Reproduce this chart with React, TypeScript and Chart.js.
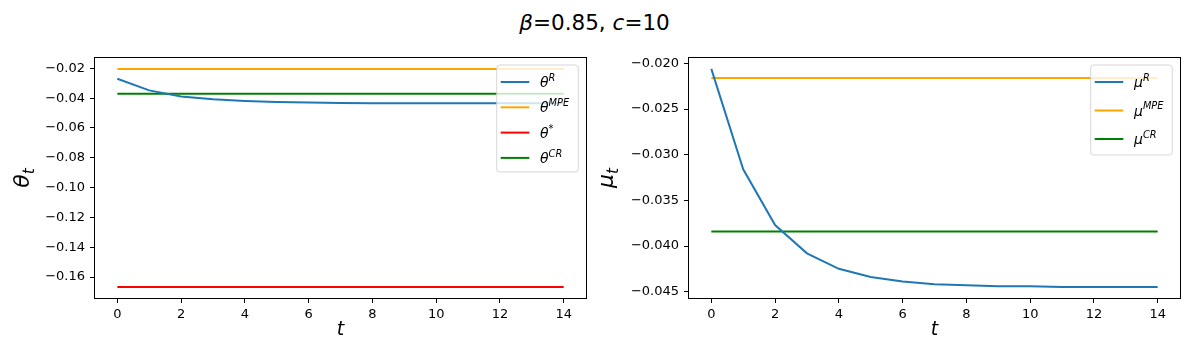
import React, { useEffect, useRef } from 'react';
import { Chart, registerables } from 'chart.js';

Chart.register(...registerables);

// ---------- data ----------
const T = [0, 1, 2, 3, 4, 5, 6, 7, 8, 9, 10, 11, 12, 13, 14];
const X_TICKS = [0, 2, 4, 6, 8, 10, 12, 14];

const THETA_R = [-0.0270, -0.0348, -0.0389, -0.0408, -0.0419, -0.0426, -0.0430, -0.0432, -0.0434, -0.0434, -0.0435, -0.0435, -0.0435, -0.0435, -0.0435];
const THETA_MPE = [-0.0204, -0.0204, -0.0204, -0.0204, -0.0204, -0.0204, -0.0204, -0.0204, -0.0204, -0.0204, -0.0204, -0.0204, -0.0204, -0.0204, -0.0204];
const THETA_STAR = [-0.1667, -0.1667, -0.1667, -0.1667, -0.1667, -0.1667, -0.1667, -0.1667, -0.1667, -0.1667, -0.1667, -0.1667, -0.1667, -0.1667, -0.1667];
const THETA_CR = [-0.0371, -0.0371, -0.0371, -0.0371, -0.0371, -0.0371, -0.0371, -0.0371, -0.0371, -0.0371, -0.0371, -0.0371, -0.0371, -0.0371, -0.0371];
const THETA_TICKS = [-0.16, -0.14, -0.12, -0.10, -0.08, -0.06, -0.04, -0.02];

const MU_R = [-0.0206, -0.0316, -0.0377, -0.0408, -0.0425, -0.0434, -0.0439, -0.0442, -0.0443, -0.0444, -0.0444, -0.0445, -0.0445, -0.0445, -0.0445];
const MU_MPE = [-0.0216, -0.0216, -0.0216, -0.0216, -0.0216, -0.0216, -0.0216, -0.0216, -0.0216, -0.0216, -0.0216, -0.0216, -0.0216, -0.0216, -0.0216];
const MU_CR = [-0.0384, -0.0384, -0.0384, -0.0384, -0.0384, -0.0384, -0.0384, -0.0384, -0.0384, -0.0384, -0.0384, -0.0384, -0.0384, -0.0384, -0.0384];
const MU_TICKS = [-0.045, -0.040, -0.035, -0.030, -0.025, -0.020];

const FONT = "'DejaVu Sans', sans-serif";

type Piece = { text: string; italic?: boolean; sup?: boolean; sub?: boolean };
type Series = { label: Piece[]; values: number[]; color: string };
type Panel = {
  series: Series[];
  ticks: number[];
  decimals: number;
  ylabel: Piece[];
  ylabelX: number;
  legendSpacing: number;
  legendBottom: number;
};

function drawMath(ctx: CanvasRenderingContext2D, pieces: Piece[], x: number, y: number, size: number, measureOnly = false): number {
  let cx = x;
  for (const p of pieces) {
    const s = p.sup || p.sub ? size * 0.7 : size;
    ctx.font = `${p.italic ? 'italic ' : ''}${s}px ${FONT}`;
    const dy = p.sup ? -size * 0.43 : p.sub ? size * 0.22 : 0;
    if (!measureOnly) ctx.fillText(p.text, cx, y + dy);
    cx += ctx.measureText(p.text).width;
  }
  return cx - x;
}

function fmt(v: number, d: number) {
  const s = Math.abs(v).toFixed(d);
  return v < 0 ? '\u2212' + s : s;
}

function makePlugin(panel: Panel) {
  return {
    id: 'panelDecor',
    afterDatasetsDraw(chart: any) {
      const { ctx, chartArea: a } = chart;
      const n = panel.series.length;
      const boxW = 81.6;
      const right = a.right - 7.7;
      const left = right - boxW;
      const top = a.top + 7;
      const h = 17 + (n - 1) * panel.legendSpacing + panel.legendBottom;
      ctx.save();
      ctx.beginPath();
      const r = 3;
      ctx.moveTo(left + r, top);
      ctx.lineTo(right - r, top);
      ctx.arcTo(right, top, right, top + r, r);
      ctx.lineTo(right, top + h - r);
      ctx.arcTo(right, top + h, right - r, top + h, r);
      ctx.lineTo(left + r, top + h);
      ctx.arcTo(left, top + h, left, top + h - r, r);
      ctx.lineTo(left, top + r);
      ctx.arcTo(left, top, left + r, top, r);
      ctx.closePath();
      ctx.fillStyle = 'rgba(255,255,255,0.8)';
      ctx.fill();
      ctx.strokeStyle = 'rgba(204,204,204,0.8)';
      ctx.lineWidth = 1;
      ctx.stroke();
      panel.series.forEach((s, i) => {
        const ly = top + 17 + i * panel.legendSpacing;
        ctx.beginPath();
        ctx.strokeStyle = s.color;
        ctx.lineWidth = 2;
        ctx.moveTo(left + 4, ly);
        ctx.lineTo(left + 32.6, ly);
        ctx.stroke();
        ctx.fillStyle = '#000';
        ctx.textAlign = 'left';
        ctx.textBaseline = 'alphabetic';
        drawMath(ctx, s.label, left + 43.3, ly + 5, 14);
      });
      ctx.restore();
    },
    afterDraw(chart: any) {
      const { ctx, chartArea: a } = chart;
      ctx.save();
      ctx.strokeStyle = '#000';
      ctx.lineWidth = 1;
      const l = Math.round(a.left) - 0.5;
      const t = Math.round(a.top) - 0.5;
      const rr = Math.round(a.right) + 0.5;
      const b = Math.round(a.bottom) + 0.5;
      ctx.strokeRect(l, t, rr - l, b - t);
      // x label
      ctx.fillStyle = '#000';
      ctx.textAlign = 'center';
      ctx.textBaseline = 'alphabetic';
      ctx.font = `italic 19px ${FONT}`;
      ctx.fillText('t', (a.left + a.right) / 2, 335);
      // y label (rotated)
      const size = 22;
      ctx.textAlign = 'left';
      const w = drawMath(ctx, panel.ylabel, 0, 0, size, true);
      ctx.translate(panel.ylabelX, (a.top + a.bottom) / 2);
      ctx.rotate(-Math.PI / 2);
      drawMath(ctx, panel.ylabel, -w / 2, 0, size);
      ctx.restore();
    },
  };
}

function PanelChart({ panel, left }: { panel: Panel; left: number }) {
  const ref = useRef<HTMLCanvasElement | null>(null);
  useEffect(() => {
    if (!ref.current) return;
    let mn = Infinity;
    let mx = -Infinity;
    panel.series.forEach((s) => s.values.forEach((v) => { mn = Math.min(mn, v); mx = Math.max(mx, v); }));
    const pad = (mx - mn) * 0.05;
    const chart = new Chart(ref.current, {
      type: 'line',
      data: {
        datasets: panel.series.map((s) => ({
          label: s.label.map((p) => p.text).join(''),
          data: T.map((t, i) => ({ x: t, y: s.values[i] })),
          borderColor: s.color,
          backgroundColor: s.color,
          borderWidth: 2,
          pointRadius: 0,
          fill: false,
          tension: 0,
        })),
      },
      options: {
        animation: false,
        responsive: false,
        layout: { padding: { left: 0, top: 58, right: 8, bottom: 0 } },
        plugins: { legend: { display: false }, tooltip: { enabled: false }, title: { display: false } },
        scales: {
          x: {
            type: 'linear',
            min: -0.7,
            max: 14.7,
            afterBuildTicks: (s: any) => { s.ticks = X_TICKS.map((v) => ({ value: v })); },
            afterFit: (s: any) => { s.height = 58; },
            grid: { display: true, drawOnChartArea: false, drawTicks: true, tickLength: 5, color: '#000', lineWidth: 1 },
            border: { display: false },
            ticks: { color: '#000', font: { family: FONT, size: 13 }, padding: 4, maxRotation: 0, autoSkip: false, callback: (v: any) => String(v) },
          },
          y: {
            type: 'linear',
            min: mn - pad,
            max: mx + pad,
            afterBuildTicks: (s: any) => { s.ticks = panel.ticks.map((v) => ({ value: v })); },
            afterFit: (s: any) => { s.width = 95; },
            grid: { display: true, drawOnChartArea: false, drawTicks: true, tickLength: 5, color: '#000', lineWidth: 1 },
            border: { display: false },
            ticks: { color: '#000', font: { family: FONT, size: 13 }, padding: 5, autoSkip: false, callback: (v: any) => fmt(Number(v), panel.decimals) },
          },
        },
      } as any,
      plugins: [makePlugin(panel)],
    });
    return () => chart.destroy();
  }, [panel]);
  return (
    <canvas
      ref={ref}
      width={594}
      height={356}
      style={{ position: 'absolute', left, top: 0, width: 594, height: 356 }}
    />
  );
}

const LEFT_PANEL: Panel = {
  series: [
    { label: [{ text: 'θ', italic: true }, { text: 'R', italic: true, sup: true }], values: THETA_R, color: '#1f77b4' },
    { label: [{ text: 'θ', italic: true }, { text: 'MPE', italic: true, sup: true }], values: THETA_MPE, color: '#ffa500' },
    { label: [{ text: 'θ', italic: true }, { text: '*', sup: true }], values: THETA_STAR, color: '#ff0000' },
    { label: [{ text: 'θ', italic: true }, { text: 'CR', italic: true, sup: true }], values: THETA_CR, color: '#008000' },
  ],
  ticks: THETA_TICKS,
  decimals: 2,
  ylabel: [{ text: 'θ', italic: true }, { text: 't', italic: true, sub: true }],
  ylabelX: 29,
  legendSpacing: 25.3,
  legendBottom: 14,
};

const RIGHT_PANEL: Panel = {
  series: [
    { label: [{ text: 'μ', italic: true }, { text: 'R', italic: true, sup: true }], values: MU_R, color: '#1f77b4' },
    { label: [{ text: 'μ', italic: true }, { text: 'MPE', italic: true, sup: true }], values: MU_MPE, color: '#ffa500' },
    { label: [{ text: 'μ', italic: true }, { text: 'CR', italic: true, sup: true }], values: MU_CR, color: '#008000' },
  ],
  ticks: MU_TICKS,
  decimals: 3,
  ylabel: [{ text: 'μ', italic: true }, { text: 't', italic: true, sub: true }],
  ylabelX: 19,
  legendSpacing: 28.5,
  legendBottom: 16,
};

export default function App() {
  return (
    <div style={{ position: 'fixed', left: 0, top: 0, width: 1189, height: 356, background: '#fff', overflow: 'hidden' }}>
      <div
        style={{
          position: 'absolute',
          left: 0,
          top: 12,
          width: 1189,
          textAlign: 'center',
          fontFamily: FONT,
          fontSize: 21.5,
          lineHeight: '21px',
          color: '#000',
        }}
      >
        <i>β</i>=0.85, <i>c</i>=10
      </div>
      <PanelChart panel={LEFT_PANEL} left={0} />
      <PanelChart panel={RIGHT_PANEL} left={594} />
    </div>
  );
}
